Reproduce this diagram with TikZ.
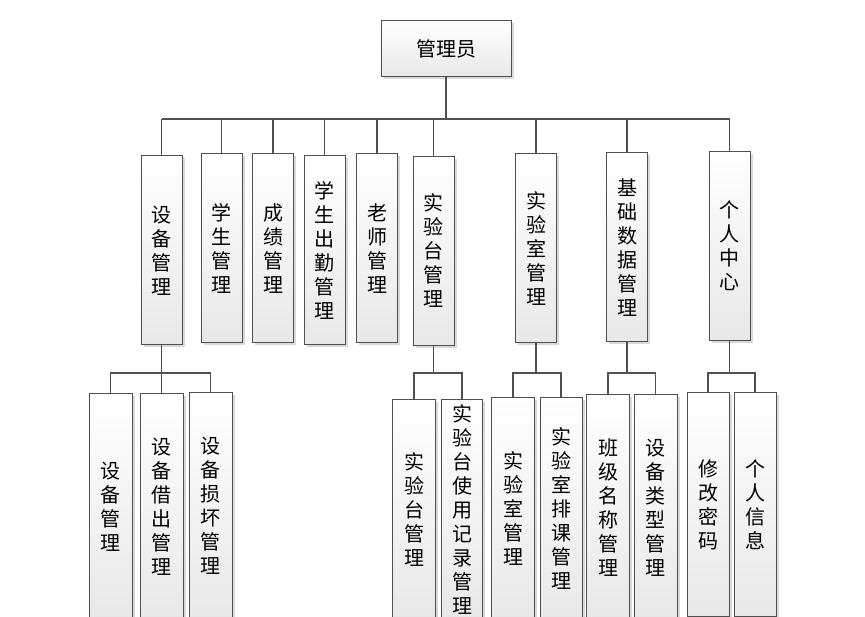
\documentclass[tikz,border=0pt]{standalone}
\usepackage{fontspec}
\setmainfont{Noto Sans CJK SC}
\usepackage{tikz}
\usetikzlibrary{positioning}
\usetikzlibrary{shadows}
\definecolor{linegray}{RGB}{80,80,80}
\definecolor{boxgray}{RGB}{232,232,232}

\begin{document}
\begin{tikzpicture}[x=1pt,y=-1pt,
    box/.style={draw=linegray, line width=1pt, top color=white, bottom color=boxgray,
        drop shadow={shadow xshift=2.5pt, shadow yshift=-2.5pt, opacity=0.3},
        inner sep=0pt, align=center, font=\fontsize{20}{24}\selectfont},
    tall/.style={box, minimum width=41pt, minimum height=189pt},
    leaf/.style={box, minimum width=43pt, minimum height=226pt, anchor=north},
    link/.style={draw=linegray, line width=1.5pt}]
    \useasboundingbox (0,0) rectangle (865,617);
    \node[box, minimum width=130pt, minimum height=56pt] (root) at (446,49) {管理员};
    % first level
    \node[tall] (sb) at (161.5,250.5) {设\\备\\管\\理};
    \node[tall] (xs) at (221.5,248) {学\\生\\管\\理};
    \node[tall] (cj) at (273,248.5) {成\\绩\\管\\理};
    \node[tall] (cq) at (324.5,250) {学\\生\\出\\勤\\管\\理};
    \node[tall] (ls) at (377,248.5) {老\\师\\管\\理};
    \node[tall] (syt) at (433.5,251) {实\\验\\台\\管\\理};
    \node[tall] (sys) at (536,248.5) {实\\验\\室\\管\\理};
    \node[tall] (jc) at (627,247.5) {基\\础\\数\\据\\管\\理};
    \node[tall] (gr) at (729.5,246) {个\\人\\中\\心};
    % second level
    \node[leaf] (sb1) at (110.5,393) {设\\备\\管\\理};
    \node[leaf] (sb2) at (161.5,393) {设\\备\\借\\出\\管\\理};
    \node[leaf] (sb3) at (210.5,392) {设\\备\\损\\坏\\管\\理};
    \node[leaf, minimum height=220pt] (syt1) at (414,399) {实\\验\\台\\管\\理};
    \node[leaf, minimum height=220pt, minimum width=41pt] (syt2) at (462,399) {实\\验\\台\\使\\用\\记\\录\\管\\理};
    \node[leaf, minimum height=222pt] (sys1) at (513,397) {实\\验\\室\\管\\理};
    \node[leaf, minimum height=222pt, minimum width=42pt] (sys2) at (561,397) {实\\验\\室\\排\\课\\管\\理};
    \node[leaf] (jc1) at (608,394) {班\\级\\名\\称\\管\\理};
    \node[leaf] (jc2) at (655.5,394) {设\\备\\类\\型\\管\\理};
    \node[leaf, minimum height=224pt, minimum width=42pt] (gr1) at (708,392) {修\\改\\密\\码};
    \node[leaf, minimum height=224pt, minimum width=42pt] (gr2) at (755,392) {个\\人\\信\\息};
    \coordinate (bus) at (0,119);
    \coordinate (bus2) at (0,373);
    \draw[link] (root.south) -- (root.south |- bus);
    \draw[link] (sb.north |- bus) -- (gr.north |- bus);
    \foreach \n in {sb,xs,cj,cq,ls,syt,sys,jc,gr}
    \draw[link] (\n.north) -- (\n.north |- bus);
    \foreach \p/\a/\b in {sb/sb1/sb3, syt/syt1/syt2, sys/sys1/sys2, jc/jc1/jc2, gr/gr1/gr2}
    \draw[link] (\p.south) -- (\p.south |- bus2)
        (\a.north) -- (\a.north |- bus2) -- (\b.north |- bus2) -- (\b.north);
    \draw[link] (sb2.north) -- (sb2.north |- bus2);
\end{tikzpicture}
\end{document}
